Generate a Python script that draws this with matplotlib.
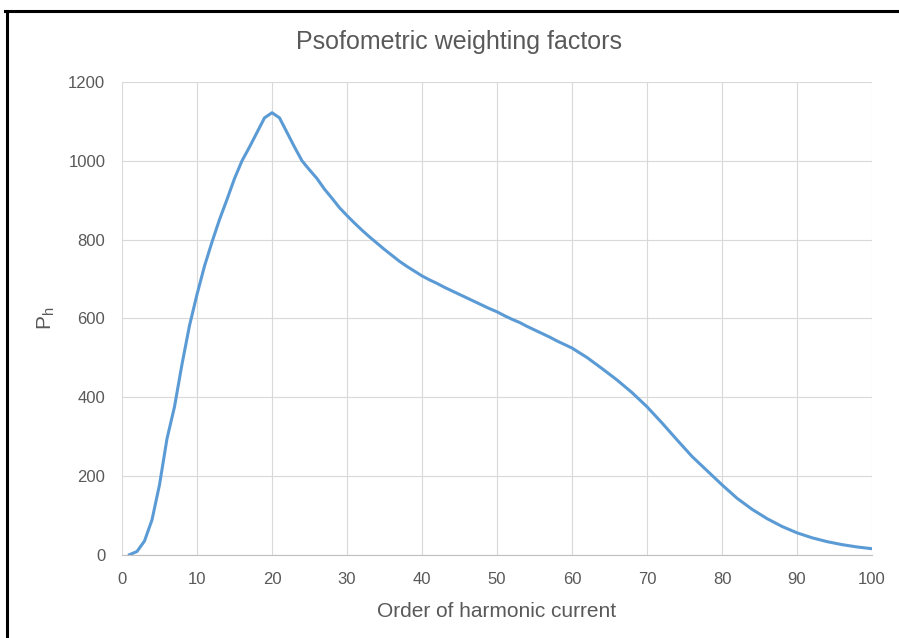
import matplotlib
matplotlib.use("Agg")
import matplotlib.pyplot as plt
from matplotlib.lines import Line2D

# harmonic order (50 Hz base) and psophometric weights
harmonic = [1, 2, 3, 4, 5, 6, 7, 8, 9, 10,
            11, 12, 13, 14, 15, 16, 17, 18, 19, 20,
            21, 22, 23, 24, 25, 26, 27, 28, 29, 30,
            31, 32, 33, 34, 35, 36, 37, 38, 39, 40,
            41, 42, 43, 44, 45, 46, 47, 48, 49, 50,
            51, 52, 53, 54, 55, 56, 57, 58, 59, 60,
            62, 64, 66, 68, 70, 72, 74, 76, 78, 80,
            82, 84, 86, 88, 90, 92, 94, 96, 98, 100]
weight = [0.71, 8.91, 35.5, 89.1, 178, 295, 376, 484, 582, 661,
          733, 794, 851, 902, 955, 1000, 1035, 1072, 1109, 1122,
          1109, 1072, 1035, 1000, 977, 955, 928, 905, 881, 861,
          842, 824, 807, 791, 775, 760, 745, 732, 720, 708,
          698, 689, 679, 670, 661, 652, 643, 634, 625, 617,
          607, 598, 590, 580, 571, 562, 553, 543, 534, 525,
          501, 473, 444, 412, 376, 335, 292, 250, 214, 178,
          144, 116, 92.3, 72.4, 56.2, 43.7, 33.9, 26.3, 20.4, 15.9]

x_ticks = list(range(0, 101, 10))
y_ticks = list(range(0, 1201, 200))

TEXT = '#595959'
plt.rcParams['font.family'] = ['Liberation Sans', 'DejaVu Sans']

fig = plt.figure(figsize=(8.99, 6.38), dpi=100)
ax = fig.add_axes([0.1357, 0.1301, 0.8343, 0.7414])

ax.plot(harmonic, weight, color='#5B9BD5', lw=2.2, solid_joinstyle='round')

ax.set_xlim(0, 100)
ax.set_ylim(0, 1200)
ax.set_xticks(x_ticks)
ax.set_yticks(y_ticks)
ax.grid(True, color='#D9D9D9', lw=0.8)
ax.set_axisbelow(True)
for side in ['top', 'right', 'left']:
    ax.spines[side].set_visible(False)
ax.spines['bottom'].set_color('#BFBFBF')
ax.spines['bottom'].set_linewidth(0.8)
ax.tick_params(length=0, labelsize=12, labelcolor=TEXT)
ax.tick_params(axis='x', pad=12)
ax.tick_params(axis='y', pad=12)

ax.set_xlabel('Order of harmonic current', fontsize=15, color=TEXT, labelpad=11)
ax.set_ylabel('P$_\\mathregular{h}$', fontsize=15, color=TEXT, labelpad=8)
fig.text(0.511, 0.934, 'Psofometric weighting factors', fontsize=18,
         color=TEXT, ha='center', va='center')

# black frame on top and left edge
fig.add_artist(Line2D([5 / 899, 1], [1 - 11 / 638, 1 - 11 / 638],
                      transform=fig.transFigure, color='black', lw=2.2))
fig.add_artist(Line2D([7 / 899, 7 / 899], [0, 1 - 11 / 638],
                      transform=fig.transFigure, color='black', lw=2.2))

fig.savefig('out.png', dpi=100)
